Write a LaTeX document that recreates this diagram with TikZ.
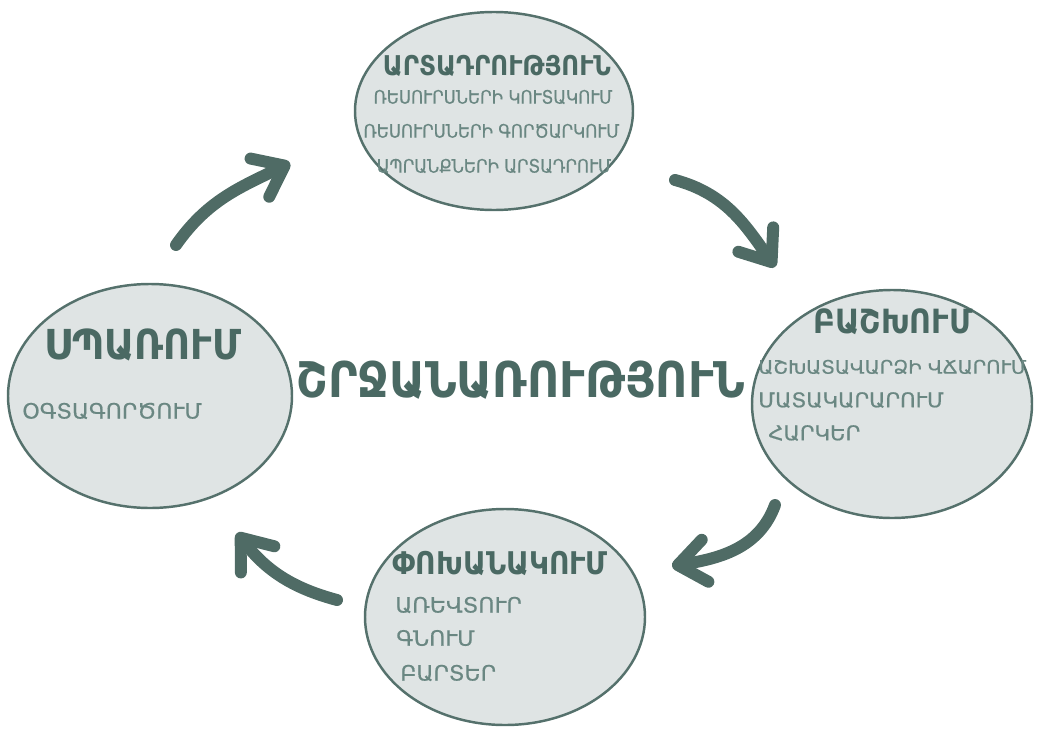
\documentclass[tikz,border=0pt]{standalone}
\usepackage{fontspec}
\setmainfont{DejaVu Sans}
\newfontfamily\armfont[FakeStretch=0.9, FakeBold=0.6]{DejaVu Sans}
\newfontfamily\armwide[FakeStretch=1.05, FakeBold=0.6]{DejaVu Sans}
\newfontfamily\armbold[FakeStretch=0.9]{DejaVu Sans Bold}
\usepackage{tikz}
\usetikzlibrary{shapes.geometric, arrows.meta}

\definecolor{cyclefill}{HTML}{DFE4E4}
\definecolor{cycledraw}{HTML}{55716C}
\definecolor{cyclearrow}{HTML}{4F6B65}
\definecolor{cycletitle}{HTML}{4A6963}
\definecolor{cycleitem}{HTML}{6A8782}

\begin{document}
\begin{tikzpicture}[node distance=5.8cm]
        \tikzstyle{phase} = [ellipse, draw=cycledraw, line width=1.4pt, fill=cyclefill, inner sep=0pt]
        \tikzstyle{title} = [font=\armbold\fontsize{19}{19}\selectfont, text=cycletitle, inner sep=0pt]
        \tikzstyle{item} = [font=\armwide\fontsize{12}{12}\selectfont, text=cycleitem, inner sep=0pt]
        \tikzstyle{arrow} = [cyclearrow, line width=6.8pt, line cap=round, -{Straight Barb[length=0.55cm, width=0.85cm, round]}]

        \useasboundingbox (0,0) rectangle (20.78,-14.78);

        % Nodes
        \node (prod) [phase, minimum width=5.56cm, minimum height=3.96cm] at (9.88,-2.22) {};
        \node (distr) [phase, below of=prod, xshift=7.96cm, yshift=-0.06cm, minimum width=5.6cm, minimum height=4.56cm] {};
        \node (exch) [phase, below of=prod, xshift=0.22cm, yshift=-4.32cm, minimum width=5.6cm, minimum height=4.32cm] {};
        \node (cons) [phase, below of=prod, xshift=-6.88cm, yshift=0.1cm, minimum width=5.68cm, minimum height=4.48cm] {};
        \node (cycle) [below of=prod, xshift=0.54cm, yshift=0.42cm, font=\armbold\fontsize{28}{28}\selectfont, text=cycletitle, inner sep=0pt] {ՇՐՋԱՆԱՌՈՒԹՅՈՒՆ};

        % Production
        \node (prodtitle) [title, font=\armbold\fontsize{15.5}{15.5}\selectfont] at (9.94,-1.32) {ԱՐՏԱԴՐՈՒԹՅՈՒՆ};
        \node (prodone) [item, font=\armfont\fontsize{10.5}{10.5}\selectfont] at (9.86,-1.94) {ՌԵՍՈՒՐՍՆԵՐԻ ԿՈՒՏԱԿՈՒՄ};
        \node (prodtwo) [item, font=\armfont\fontsize{10.5}{10.5}\selectfont] at (9.83,-2.62) {ՌԵՍՈՒՐՍՆԵՐԻ ԳՈՐԾԱՐԿՈՒՄ};
        \node (prodthree) [item, font=\armfont\fontsize{10.5}{10.5}\selectfont] at (9.88,-3.32) {ԱՊՐԱՆՔՆԵՐԻ ԱՐՏԱԴՐՈՒՄ};

        % Distribution
        \node (distrtitle) [title] at (17.86,-6.44) {ԲԱՇԽՈՒՄ};
        \node (distrone) [item, font=\armwide\fontsize{10.6}{10.6}\selectfont, anchor=west] at (15.16,-7.34) {ԱՇԽԱՏԱՎԱՐՁԻ ՎՃԱՐՈՒՄ};
        \node (distrtwo) [item, font=\armwide\fontsize{11.5}{11.5}\selectfont, anchor=west] at (15.16,-8.0) {ՄԱՏԱԿԱՐԱՐՈՒՄ};
        \node (distrthree) [item, font=\armwide\fontsize{11.5}{11.5}\selectfont, anchor=west] at (15.36,-8.66) {ՀԱՐԿԵՐ};

        % Exchange
        \node (exchtitle) [title, font=\armbold\fontsize{17.8}{17.8}\selectfont] at (10.0,-11.26) {ՓՈԽԱՆԱԿՈՒՄ};
        \node (exchone) [item, anchor=west] at (7.9,-12.1) {ԱՌԵՎՏՈՒՐ};
        \node (exchtwo) [item, anchor=west] at (7.92,-12.76) {ԳՆՈՒՄ};
        \node (exchthree) [item, anchor=west] at (8.0,-13.46) {ԲԱՐՏԵՐ};

        % Consumption
        \node (constitle) [title, font=\armbold\fontsize{23.5}{23.5}\selectfont] at (2.86,-6.9) {ՍՊԱՌՈՒՄ};
        \node (consone) [item, anchor=west] at (0.44,-8.22) {ՕԳՏԱԳՈՐԾՈՒՄ};

        % Arrow ends
        \coordinate (consout) at (3.52,-4.9);
        \coordinate (prodin) at (5.8,-3.26);
        \coordinate (prodout) at (13.5,-3.6);
        \coordinate (distrin) at (15.5,-5.34);
        \coordinate (distrout) at (15.5,-10.1);
        \coordinate (exchin) at (13.44,-11.32);
        \coordinate (exchout) at (6.74,-12.0);
        \coordinate (consin) at (4.74,-10.66);

        % Arrows
        \draw [arrow] (consout) to[out=55, in=206] (prodin);
        \draw [arrow] (prodout) to[out=-15, in=125] (distrin);
        \draw [arrow] (distrout) to[out=250, in=9] (exchin);
        \draw [arrow] (exchout) to[out=165, in=-52] (consin);
    \end{tikzpicture}
\end{document}
